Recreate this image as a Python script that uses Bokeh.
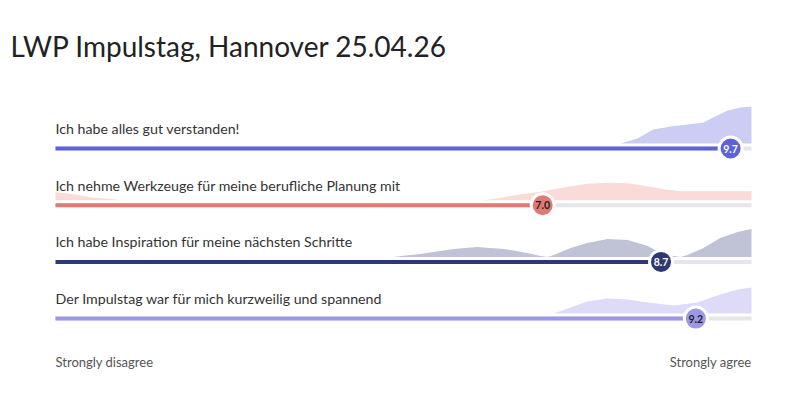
from bokeh.plotting import figure
from bokeh.models import Range1d
from bokeh.core.properties import value
from bokeh.embed import file_html
from bokeh.resources import INLINE

TITLE = "LWP Impulstag, Hannover 25.04.26"
QUESTIONS = [
    "Ich habe alles gut verstanden!",
    "Ich nehme Werkzeuge für meine berufliche Planung mit",
    "Ich habe Inspiration für meine nächsten Schritte",
    "Der Impulstag war für mich kurzweilig und spannend",
]
SCORES = [9.7, 7.0, 8.7, 9.2]
SCORE_LABELS = ["9.7", "7.0", "8.7", "9.2"]
SCALE_MIN, SCALE_MAX = 0, 10
LOW_LABEL = "Strongly disagree"
HIGH_LABEL = "Strongly agree"

# response distribution (smoothed density) per question: score positions and density heights
DENS_X_1 = [8.12, 8.36, 8.59, 8.84, 9.08, 9.31, 9.45, 9.66, 9.84, 10.0]
DENS_Y_1 = [0.0, 0.05, 0.14, 0.17, 0.19, 0.21, 0.26, 0.33, 0.36, 0.37]
DENS_X_2 = [0.0, 0.26, 0.5, 0.83, 0.95, 6.15, 6.21, 6.44, 6.68, 6.93, 7.16, 7.40, 7.64, 7.93, 8.22, 8.51, 8.74, 8.98, 9.31, 10.0]
DENS_Y_2 = [0.08, 0.06, 0.03, 0.01, 0.0, 0.0, 0.005, 0.03, 0.06, 0.08, 0.11, 0.14, 0.165, 0.175, 0.17, 0.14, 0.11, 0.09, 0.09, 0.09]
DENS_X_3 = [4.85, 5.24, 5.72, 6.06, 6.44, 6.78, 6.97, 7.07, 7.16, 7.40, 7.64, 7.93, 8.22, 8.51, 8.69, 8.88, 8.98, 9.08, 9.31, 9.55, 9.80, 10.0]
DENS_Y_3 = [0.0, 0.03, 0.08, 0.10, 0.08, 0.04, 0.01, 0.0, 0.02, 0.09, 0.14, 0.18, 0.17, 0.11, 0.04, 0.01, 0.0, 0.02, 0.09, 0.19, 0.25, 0.28]
DENS_X_4 = [7.16, 7.40, 7.64, 7.93, 8.22, 8.51, 8.88, 9.22, 9.55, 9.80, 10.0]
DENS_Y_4 = [0.0, 0.06, 0.12, 0.15, 0.14, 0.11, 0.08, 0.11, 0.19, 0.24, 0.26]
DENS_X = [DENS_X_1, DENS_X_2, DENS_X_3, DENS_X_4]
DENS_Y = [DENS_Y_1, DENS_Y_2, DENS_Y_3, DENS_Y_4]

BAR_COLORS = ["#5c63d8", "#e07b73", "#2e3873", "#9c98e6"]
AREA_COLORS = ["#cbcdf3", "#f9dbd8", "#c0c2d5", "#dddbf8"]
VALUE_TEXT_COLORS = ["white", "#222222", "white", "#222222"]
TRACK_COLOR = "#e6e6ea"
FONT = "Lato"

# layout (page pixels)
W, H = 784, 384
ORIGIN = 0
X0_PX, X1_PX = 55, 751
PX_PER = (X1_PX - X0_PX) / (SCALE_MAX - SCALE_MIN)
FIRST_BAR_Y = 148
ROW_STEP = 56.7
DENS_PX = 100

xr = Range1d(SCALE_MIN + (ORIGIN - X0_PX) / PX_PER, SCALE_MIN + (ORIGIN + W - X0_PX) / PX_PER)
p = figure(width=W, height=H, x_range=xr, y_range=Range1d(ORIGIN + H, ORIGIN),
           output_backend="svg", toolbar_location=None, min_border=0)
p.axis.visible = False
p.grid.visible = False
p.outline_line_color = None
p.background_fill_color = "white"
p.border_fill_color = "white"

p.text(x=[SCALE_MIN + (10 - X0_PX) / PX_PER], y=[45], text=[TITLE],
       text_font=value(FONT), text_font_size="28px", text_color="#222222",
       text_baseline="alphabetic", text_align="left")

for i, q in enumerate(QUESTIONS):
    by = FIRST_BAR_Y + i * ROW_STEP
    base = by - 5
    xs = [DENS_X[i][0]] + DENS_X[i] + [DENS_X[i][-1]]
    ys = [base] + [base - d * DENS_PX for d in DENS_Y[i]] + [base]
    p.patch(xs, ys, fill_color=AREA_COLORS[i], line_color=None)
    p.text(x=[SCALE_MIN], y=[by - 20], text=[q], text_font=value(FONT),
           text_font_size="14.2px", text_color="#333333", text_baseline="alphabetic")
    p.segment(x0=[SCALE_MIN], x1=[SCALE_MAX], y0=[by], y1=[by], line_color=TRACK_COLOR, line_width=4)
    p.segment(x0=[SCALE_MIN], x1=[SCORES[i]], y0=[by], y1=[by], line_color=BAR_COLORS[i], line_width=4)
    p.scatter(x=[SCORES[i]], y=[by], size=23, fill_color=BAR_COLORS[i], line_color="white", line_width=3)
    p.text(x=[SCORES[i]], y=[by], text=[SCORE_LABELS[i]], text_font=value(FONT),
           text_font_size="10.5px", text_font_style="bold", text_color=VALUE_TEXT_COLORS[i],
           text_align="center", text_baseline="middle")

p.text(x=[SCALE_MIN], y=[361], text=[LOW_LABEL], text_font=value(FONT), text_font_size="13px",
       text_color="#555555", text_baseline="alphabetic", text_align="left")
p.text(x=[SCALE_MAX], y=[361], text=[HIGH_LABEL], text_font=value(FONT), text_font_size="13px",
       text_color="#555555", text_baseline="alphabetic", text_align="right")

open("out.html", "w").write(file_html(p, INLINE))
